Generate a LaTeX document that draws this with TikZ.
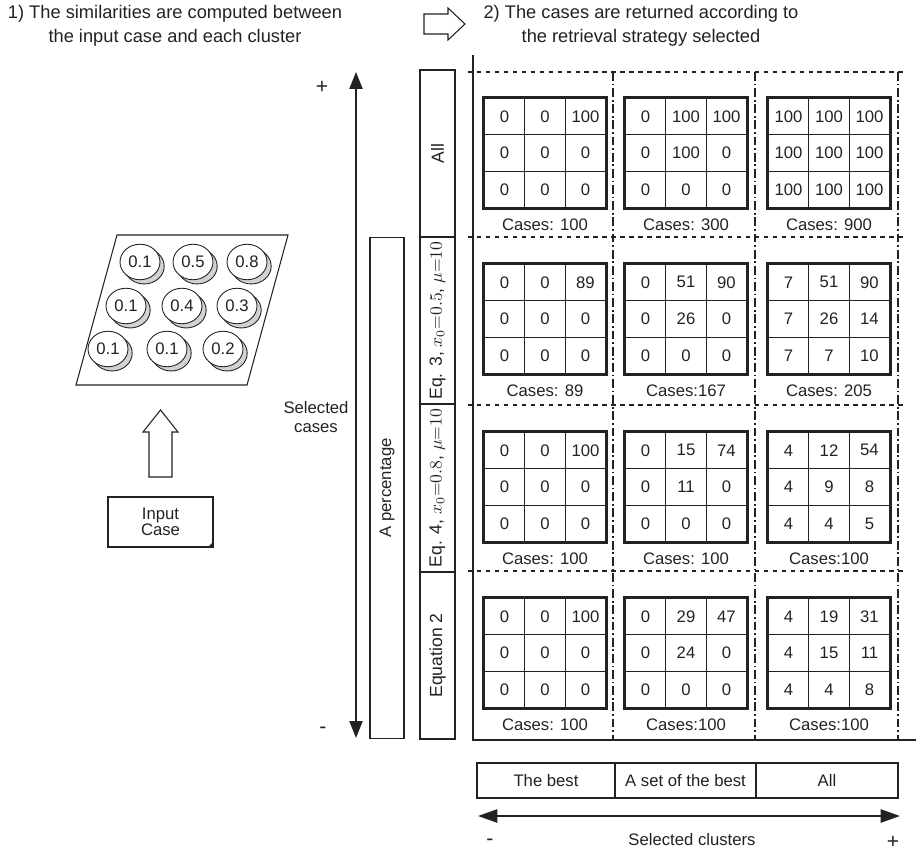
\documentclass[tikz,border=0pt]{standalone}
\usepackage{fontspec}
\setmainfont{Liberation Sans}
\usetikzlibrary{arrows.meta,positioning,matrix,shapes.geometric,shadows}
\definecolor{inkgray}{HTML}{222222}
\definecolor{shadowgray}{HTML}{D2D2D2}

\begin{document}
\begin{tikzpicture}[
  x=0.02cm, y=-0.02cm,
  font=\fontsize{9.5}{11}\selectfont,
  text=inkgray,
  title/.style={align=center, font=\fontsize{10.4}{13.6}\selectfont},
  sign/.style={font=\fontsize{12}{12}\selectfont, inner sep=0pt},
  hollowarrow/.style={draw=inkgray, line width=0.6pt, fill=white},
  cluster/.style={ellipse, draw=inkgray, fill=white, line width=0.5pt, minimum width=0.8cm, minimum height=0.71cm, inner sep=0pt,
    drop shadow={opacity=1, fill=shadowgray, draw=inkgray, line width=0.5pt, shadow xshift=2.4pt, shadow yshift=-2.4pt}},
  inputnote/.style={draw=inkgray, line width=0.6pt, align=center, minimum width=2.1cm, minimum height=1cm, font=\fontsize{9.5}{9.2}\selectfont},
  scalearrow/.style={{Triangle[length=9.6pt, width=7.4pt]}-{Triangle[length=9.6pt, width=7.4pt]}, line width=1.1pt, draw=inkgray},
  clusterarrow/.style={{Triangle[length=11pt, width=7.5pt]}-{Triangle[length=11pt, width=7.5pt]}, line width=1.1pt, draw=inkgray},
  strategy/.style={draw=inkgray, line width=0.6pt, rotate=90, minimum width=3.34cm, minimum height=0.7cm, inner sep=0pt, font=\fontsize{10}{12}\selectfont},
  percentbox/.style={draw=inkgray, line width=0.6pt, rotate=90, minimum width=10.04cm, minimum height=0.68cm, inner sep=0pt},
  selbox/.style={draw=inkgray, line width=0.6pt, minimum height=0.7cm, inner sep=0pt},
  gridsolid/.style={draw=inkgray, line width=1pt},
  gridrow/.style={draw=inkgray, line width=0.9pt, dash pattern=on 2.5pt off 2.6pt},
  gridcol/.style={draw=inkgray, line width=0.9pt, dash pattern=on 5pt off 1.6pt on 1pt off 1.6pt},
  casegrid/.style={matrix of nodes, draw=inkgray, line width=1.5pt, inner sep=0pt, column sep=-0.8pt, row sep=-0.8pt,
    nodes={draw=inkgray, line width=0.8pt, minimum width=0.81cm, minimum height=0.734cm, inner sep=0pt, anchor=center}},
  caselabel/.style={inner sep=1pt}
]
\useasboundingbox (0,0) rectangle (916,851);

\node[title] (stepone) at (175,26) {1) The similarities are computed between\\the input case and each cluster};
\node[title] (steptwo) at (641,26) {2) The cases are returned according to\\the retrieval strategy selected};
\draw[hollowarrow] (424,14) -- (448,14) -- (448,8) -- (465,24) -- (448,40) -- (448,34) -- (424,34) -- cycle;

\draw[draw=inkgray, line width=0.6pt] (117,235) -- (288,235) -- (247,385) -- (76,385) -- cycle;
\node[cluster] (cone) at (140,262) {0.1};
\node[cluster] (ctwo) at (193,262) {0.5};
\node[cluster] (cthree) at (247,262) {0.8};
\node[cluster] (cfour) at (126,306) {0.1};
\node[cluster] (cfive) at (182,306) {0.4};
\node[cluster] (csix) at (237,306) {0.3};
\node[cluster] (cseven) at (108,349) {0.1};
\node[cluster] (ceight) at (167,349) {0.1};
\node[cluster] (cnine) at (223,349) {0.2};

\draw[hollowarrow] (149,477) -- (149,432) -- (143,432) -- (160.5,410) -- (178,432) -- (172,432) -- (172,477) -- cycle;
\node[inputnote] (inputcase) at (160.5,522) {Input\\Case};
\fill[inkgray] (inputcase.south east) -- ++(-6,0) -- ++(6,-6) -- cycle;

\coordinate (casesplus) at (356,72);
\coordinate (casesminus) at (356,738);
\draw[scalearrow] (casesplus) -- (casesminus);
\node[sign] (plussign) at (322,87) {+};
\node[sign] (minussign) at (323,730) {-};
\node[align=center] (selcases) at (316,417) {Selected\\cases};

\node[percentbox] (percentage) at (387,488) {A percentage};
\node[strategy] (stall) at (437.5,153.5) {All};
\node[strategy] (steqthree) at (437.5,320.5) {Eq. 3, $x_0{=}0.5$, $\mu{=}10$};
\node[strategy] (steqfour) at (437.5,488) {Eq. 4, $x_0{=}0.8$, $\mu{=}10$};
\node[strategy] (steqtwo) at (437.5,655.5) {Equation 2};

\draw[gridrow] (468,72) -- (903,72);
\draw[gridrow] (468,237) -- (903,237);
\draw[gridrow] (468,405) -- (903,405);
\draw[gridrow] (468,571) -- (903,571);
\draw[gridcol] (613,72) -- (613,740);
\draw[gridcol] (755,72) -- (755,740);
\draw[gridcol] (898,72) -- (898,740);
\draw[gridsolid] (473,55) -- (473,740) -- (916,740);

\matrix[casegrid] (gaa) at (545,153) {0 & 0 & 100\\ 0 & 0 & 0\\ 0 & 0 & 0\\};
\node[caselabel, below=4pt of gaa] (laa) {Cases: 100};
\matrix[casegrid] (gab) at (686,153) {0 & 100 & 100\\ 0 & 100 & 0\\ 0 & 0 & 0\\};
\node[caselabel, below=4pt of gab] (lab) {Cases: 300};
\matrix[casegrid] (gac) at (829,153) {100 & 100 & 100\\ 100 & 100 & 100\\ 100 & 100 & 100\\};
\node[caselabel, below=4pt of gac] (lac) {Cases: 900};

\matrix[casegrid] (gba) at (545,319) {0 & 0 & 89\\ 0 & 0 & 0\\ 0 & 0 & 0\\};
\node[caselabel, below=4pt of gba] (lba) {Cases: 89};
\matrix[casegrid] (gbb) at (686,319) {0 & 51 & 90\\ 0 & 26 & 0\\ 0 & 0 & 0\\};
\node[caselabel, below=4pt of gbb] (lbb) {Cases:167};
\matrix[casegrid] (gbc) at (829,319) {7 & 51 & 90\\ 7 & 26 & 14\\ 7 & 7 & 10\\};
\node[caselabel, below=4pt of gbc] (lbc) {Cases: 205};

\matrix[casegrid] (gca) at (545,487) {0 & 0 & 100\\ 0 & 0 & 0\\ 0 & 0 & 0\\};
\node[caselabel, below=4pt of gca] (lca) {Cases: 100};
\matrix[casegrid] (gcb) at (686,487) {0 & 15 & 74\\ 0 & 11 & 0\\ 0 & 0 & 0\\};
\node[caselabel, below=4pt of gcb] (lcb) {Cases: 100};
\matrix[casegrid] (gcc) at (829,487) {4 & 12 & 54\\ 4 & 9 & 8\\ 4 & 4 & 5\\};
\node[caselabel, below=4pt of gcc] (lcc) {Cases:100};

\matrix[casegrid] (gda) at (545,653) {0 & 0 & 100\\ 0 & 0 & 0\\ 0 & 0 & 0\\};
\node[caselabel, below=4pt of gda] (lda) {Cases: 100};
\matrix[casegrid] (gdb) at (686,653) {0 & 29 & 47\\ 0 & 24 & 0\\ 0 & 0 & 0\\};
\node[caselabel, below=4pt of gdb] (ldb) {Cases:100};
\matrix[casegrid] (gdc) at (829,653) {4 & 19 & 31\\ 4 & 15 & 11\\ 4 & 4 & 8\\};
\node[caselabel, below=4pt of gdc] (ldc) {Cases:100};

\node[selbox, minimum width=2.76cm] (thebest) at (546,780.5) {The best};
\node[selbox, minimum width=2.82cm] (setbest) at (685.5,780.5) {A set of the best};
\node[selbox, minimum width=2.84cm] (allbest) at (827,780.5) {All};

\coordinate (clustersminus) at (478,816);
\coordinate (clustersplus) at (900,816);
\draw[clusterarrow] (clustersminus) -- (clustersplus);
\node[sign] (clminussign) at (490,842) {-};
\node (selclusters) at (692,840) {Selected clusters};
\node[sign] (clplussign) at (893,842) {+};
\end{tikzpicture}
\end{document}
